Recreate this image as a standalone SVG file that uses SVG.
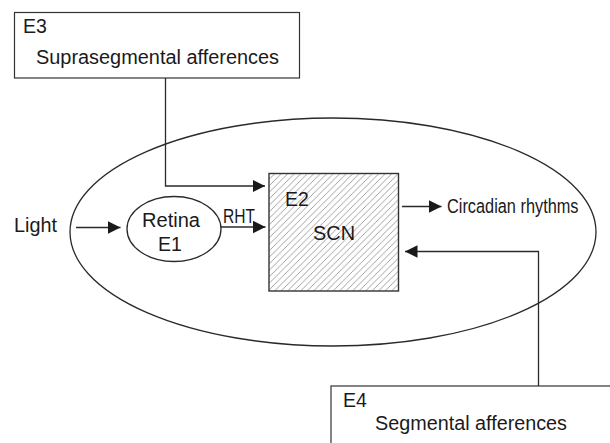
<svg xmlns="http://www.w3.org/2000/svg" width="610" height="443" viewBox="0 0 610 443">
<style>
.ln{fill:none;stroke:#2a2a2a;stroke-width:1.3}
.bx{fill:#fff;stroke:#333;stroke-width:1.2}
.t{font-family:"Liberation Sans",Arial,sans-serif;fill:#1a1a1a;font-size:19.5px}
</style>
<defs>
<marker id="ah" markerUnits="userSpaceOnUse" markerWidth="14" markerHeight="14" refX="12.5" refY="6.25" orient="auto">
<path d="M0,0 L12.5,6.25 L0,12.5 z" fill="#1a1a1a"/>
</marker>
<pattern id="hatch" patternUnits="userSpaceOnUse" width="6.5" height="6.5">
<path d="M0,6.5 L6.5,0 M-1,1 L1,-1 M5.5,7.5 L7.5,5.5" stroke="#8a8a8a" stroke-width="0.8"/>
</pattern>
</defs>
<g id="outer">
<ellipse cx="333" cy="232" rx="263" ry="114" class="ln"/>
</g>
<g id="E3">
<rect x="14.5" y="12.5" width="285" height="65.5" class="bx"/>
<text x="23" y="33" class="t">E3</text>
<text x="36" y="64" class="t" textLength="243" lengthAdjust="spacingAndGlyphs">Suprasegmental afferences</text>
</g>
<g id="E4">
<rect x="331" y="386" width="300" height="80" class="bx"/>
<text x="343" y="407" class="t">E4</text>
<text x="375" y="430" class="t" textLength="192" lengthAdjust="spacingAndGlyphs">Segmental afferences</text>
</g>
<g id="retina">
<ellipse cx="174" cy="229" rx="47" ry="32.5" class="ln"/>
<text x="171" y="226.5" class="t" text-anchor="middle" font-size="20" textLength="58" lengthAdjust="spacingAndGlyphs">Retina</text>
<text x="170" y="250.5" class="t" text-anchor="middle">E1</text>
</g>
<g id="SCN">
<rect x="269" y="173.5" width="129.5" height="117.5" fill="url(#hatch)" stroke="#333" stroke-width="1.4"/>
<text x="285" y="206" class="t">E2</text>
<text x="313" y="240" class="t" textLength="42" lengthAdjust="spacingAndGlyphs">SCN</text>
</g>
<g id="light">
<text x="14" y="232" class="t" textLength="43" lengthAdjust="spacingAndGlyphs">Light</text>
</g>
<g id="circadian">
<text x="447" y="212.5" class="t" font-size="16" textLength="131.5" lengthAdjust="spacingAndGlyphs">Circadian rhythms</text>
</g>
<g id="connectors">
<line x1="76" y1="227.5" x2="120.5" y2="227.5" class="ln" marker-end="url(#ah)"/>
<polyline points="165.5,78 165.5,186 265,186" class="ln" marker-end="url(#ah)"/>
<line x1="221" y1="227" x2="265.5" y2="227" class="ln" marker-end="url(#ah)"/>
<text x="223" y="222.5" class="t" font-size="15.5" textLength="32" lengthAdjust="spacingAndGlyphs">RHT</text>
<line x1="402" y1="206.5" x2="441.5" y2="206.5" class="ln" marker-end="url(#ah)"/>
<polyline points="538.5,386 538.5,251.5 405,251.5" class="ln" marker-end="url(#ah)"/>
</g>
</svg>
